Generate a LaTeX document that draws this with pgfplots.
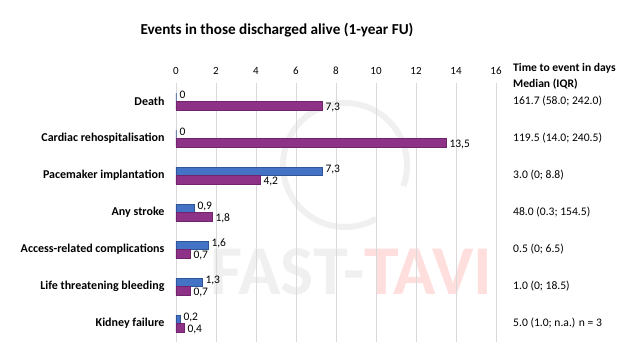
\documentclass[border=0pt]{standalone}
\usepackage{pgfplots}
\pgfplotsset{compat=1.18}
\usepackage{fontspec}
\setmainfont{Carlito}
\definecolor{cblue}{RGB}{68,114,196}
\definecolor{cblueline}{RGB}{47,85,151}
\definecolor{cpurple}{RGB}{142,50,136}
\definecolor{cpurpleline}{RGB}{112,36,108}
\begin{document}
\begin{tikzpicture}[x=1pt,y=1pt]
\useasboundingbox (0,0) rectangle (640,360);
% faint watermark
\draw[line width=6pt, color=black!6] (403.3,173.8) arc[start angle=-20, end angle=300, radius=62];
\node[font=\fontsize{70}{70}\selectfont\bfseries, anchor=base west, inner sep=0] at (210,66) {\textcolor{black!6}{FAST-}\textcolor{red!13}{TAVI}};
\node[font=\fontsize{15.2}{18}\selectfont\bfseries] at (277,330) {Events in those discharged alive (1-year FU)};
\node[anchor=west, font=\fontsize{11.6}{13}\selectfont\bfseries, inner sep=0] at (513,292) {Time to event in days};
\node[anchor=west, font=\fontsize{11.6}{13}\selectfont\bfseries, inner sep=0] at (513,276) {Median (IQR)};
\begin{axis}[
  at={(176pt,18pt)}, anchor=south west,
  scale only axis, width=320pt, height=259pt,
  xbar, bar width=8.5pt,
  xmin=0, xmax=16, xtick={0,2,...,16},
  ymin=-0.5, ymax=6.5, y dir=reverse,
  ytick={0,...,6},
  yticklabels={Death, Cardiac rehospitalisation, Pacemaker implantation, Any stroke, Access-related complications, Life threatening bleeding, Kidney failure},
  axis line style={draw=none},
  major tick length=0pt,
  xmajorgrids, grid style={color=black!15, line width=0.6pt},
  xticklabel pos=top,
  /pgf/number format/assume math mode=true,
  xticklabel style={font=\fontsize{11}{13}\selectfont, yshift=5pt},
  yticklabel style={font=\fontsize{12}{14}\selectfont\bfseries, xshift=-8pt},
  point meta=x,
  nodes near coords={\pgfmathprintnumber[use comma,fixed,precision=1,assume math mode=true]{\pgfplotspointmeta}},
  nodes near coords align=horizontal,
  every node near coord/.append style={font=\fontsize{11.5}{13}\selectfont, text=black, inner ysep=0pt},
  clip=false,
]
\addplot[fill=cblue, draw=cblueline, line width=0.4pt, bar shift=4.25pt,
  every node near coord/.append style={yshift=2pt}] coordinates {
  (0,0) (0,1) (7.3,2) (0.9,3) (1.6,4) (1.3,5) (0.2,6)};
\addplot[fill=cpurple, draw=cpurpleline, line width=0.4pt, bar shift=-4.25pt,
  every node near coord/.append style={yshift=-2pt}] coordinates {
  (7.3,0) (13.5,1) (4.2,2) (1.8,3) (0.7,4) (0.7,5) (0.4,6)};
\node[anchor=west, inner sep=0, font=\fontsize{11.6}{13}\selectfont] at (axis cs:16.85,0) {161.7 (58.0; 242.0)};
\node[anchor=west, inner sep=0, font=\fontsize{11.6}{13}\selectfont] at (axis cs:16.85,1) {119.5 (14.0; 240.5)};
\node[anchor=west, inner sep=0, font=\fontsize{11.6}{13}\selectfont] at (axis cs:16.85,2) {3.0 (0; 8.8)};
\node[anchor=west, inner sep=0, font=\fontsize{11.6}{13}\selectfont] at (axis cs:16.85,3) {48.0 (0.3; 154.5)};
\node[anchor=west, inner sep=0, font=\fontsize{11.6}{13}\selectfont] at (axis cs:16.85,4) {0.5 (0; 6.5)};
\node[anchor=west, inner sep=0, font=\fontsize{11.6}{13}\selectfont] at (axis cs:16.85,5) {1.0 (0; 18.5)};
\node[anchor=west, inner sep=0, font=\fontsize{11.6}{13}\selectfont] at (axis cs:16.85,6) {5.0 (1.0; n.a.) n = 3};
\end{axis}
\end{tikzpicture}
\end{document}
